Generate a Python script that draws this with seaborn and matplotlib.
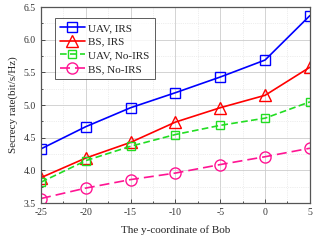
import matplotlib
matplotlib.use("Agg")
import matplotlib.pyplot as plt
import seaborn as sns
import pandas as pd
from matplotlib.ticker import MultipleLocator

x_vals = [-25, -20, -15, -10, -5, 0, 5]
uav_irs = [4.33, 4.67, 4.96, 5.19, 5.43, 5.69, 6.37]
bs_irs = [3.89, 4.19, 4.43, 4.74, 4.96, 5.15, 5.58]
uav_noirs = [3.82, 4.15, 4.37, 4.55, 4.69, 4.80, 5.05]
bs_noirs = [3.57, 3.73, 3.86, 3.96, 4.09, 4.21, 4.34]
labels = ["UAV, IRS", "BS, IRS", "UAV, No-IRS", "BS, No-IRS"]

sns.set_theme(style="white")
plt.rcParams['font.family'] = ['Liberation Serif', 'DejaVu Serif']

fig = plt.figure(figsize=(3.19, 2.45), dpi=100)
ax = fig.add_axes([0.1285, 0.171, 0.843, 0.80])

series = [uav_irs, bs_irs, uav_noirs, bs_noirs]
colors = ["#0000ff", "#ff0000", "#22dd22", "#ff1493"]
markers = ["s", "^", "s", "o"]
styles = ["-", "-", (0, (4, 2)), (0, (6, 3))]
msizes = [7, 8, 6, 8]

for s, lab, c, m, ls, ms in zip(series, labels, colors, markers, styles, msizes):
    df = pd.DataFrame({"x": x_vals, "y": s})
    sns.lineplot(data=df, x="x", y="y", ax=ax, color=c, marker=m, linestyle=ls,
                 markersize=ms, markerfacecolor="none", markeredgecolor=c,
                 markeredgewidth=1.0, linewidth=1.2, label=lab)

ax.set_xlim(-25, 5)
ax.set_ylim(3.5, 6.5)
ax.xaxis.set_major_locator(MultipleLocator(5))
ax.xaxis.set_minor_locator(MultipleLocator(2.5))
ax.yaxis.set_major_locator(MultipleLocator(0.5))
ax.yaxis.set_minor_locator(MultipleLocator(0.25))
ax.grid(which="major", color="#cccccc", linewidth=0.6, linestyle="-")
ax.grid(which="minor", color="#dddddd", linewidth=0.5, linestyle=":")
ax.set_axisbelow(True)
ax.tick_params(which="both", direction="in", labelsize=7, length=3, width=0.6,
               bottom=True, left=True, colors="#333333")
ax.tick_params(which="minor", length=1.5)
ax.set_xticklabels([f"{int(v)}" for v in ax.get_xticks()])
for sp in ax.spines.values():
    sp.set_color("#555555")
    sp.set_linewidth(0.9)
ax.set_xlabel("The y-coordinate of Bob", fontsize=8, labelpad=6)
ax.set_ylabel("Secrecy rate(bit/s/Hz)", fontsize=8, labelpad=4)

leg = ax.legend(loc="upper left", bbox_to_anchor=(0.03, 0.975), fontsize=8,
                frameon=True, fancybox=False, edgecolor="#333333",
                handlelength=2.2, handletextpad=0.3, borderpad=0.5, labelspacing=0.35)
leg.get_frame().set_linewidth(0.7)

fig.savefig("out.png", dpi=100)
